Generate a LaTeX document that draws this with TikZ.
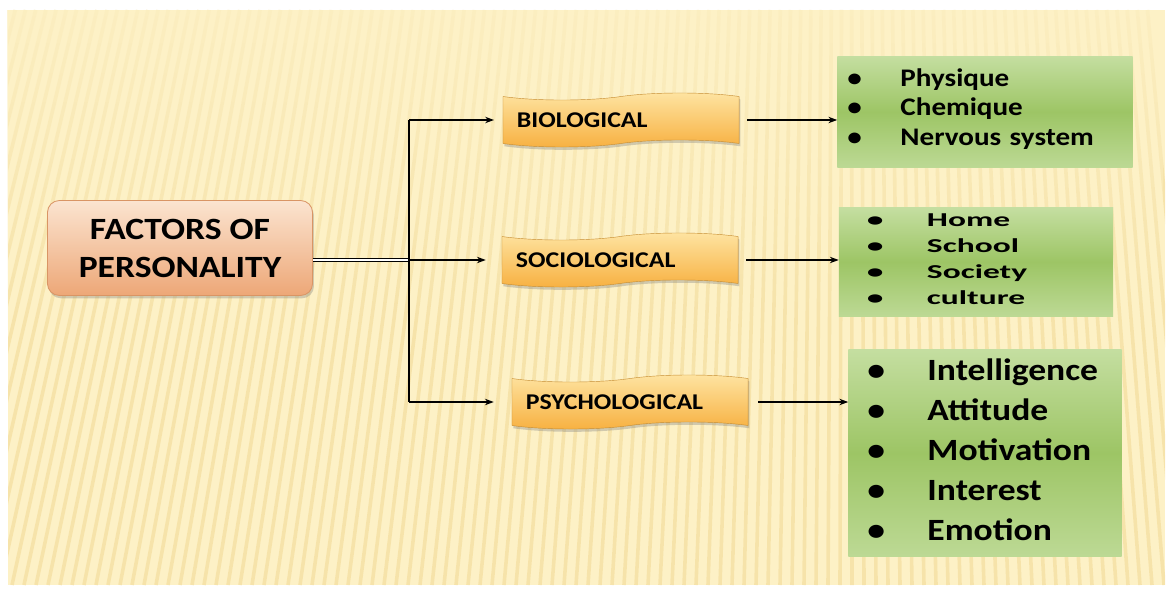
\documentclass[tikz,border=0pt]{standalone}
\usepackage{fontspec}
\setmainfont{Carlito}[FakeStretch=1.15]
\newfontfamily\widefont{Carlito}[FakeStretch=1.7]
\usetikzlibrary{arrows.meta,shapes.symbols,shadows,fadings}

\definecolor{bgyellow}{HTML}{FDF1C6}
\definecolor{stripeyellow}{HTML}{F1D78F}
\definecolor{peachtop}{HTML}{FBE4D0}
\definecolor{peachbot}{HTML}{EDA777}
\definecolor{peachline}{HTML}{D99565}
\definecolor{orangetop}{HTML}{FEE4A2}
\definecolor{orangebot}{HTML}{F7B040}
\definecolor{greenlight}{HTML}{C4DEA0}
\definecolor{greenmid}{HTML}{9DC565}

\newcommand{\bulletline}[2]{\makebox[#1][l]{\textbullet}#2}

\begin{document}
\begin{tikzpicture}[x=0.025cm,y=-0.025cm,
    arr/.style={-{Stealth[length=2.2mm,width=1.6mm]},line width=0.8pt},
    mainbox/.style={rectangle,rounded corners=0.3cm,draw=peachline,line width=0.6pt,
        top color=peachtop,bottom color=peachbot,minimum width=6.625cm,minimum height=2.375cm,
        align=center,font=\bfseries\fontsize{22}{27}\selectfont,
        drop shadow={opacity=0.35,shadow xshift=1pt,shadow yshift=-2pt}},
    factorbox/.style={tape,tape bend top=in and out,tape bend bottom=in and out,tape bend height=5pt,
        top color=orangetop,bottom color=orangebot,draw=orangebot!80!black,line width=0.3pt,
        minimum height=1.35cm,inner xsep=0.35cm,text width=5.2cm,align=left,
        font=\bfseries\fontsize{16}{19}\selectfont,
        drop shadow={opacity=0.35,shadow xshift=1pt,shadow yshift=-2pt}},
    listbox/.style={rectangle,top color=greenlight,bottom color=greenlight!80!greenmid,
        middle color=greenmid,align=left}]

% background
\useasboundingbox (0,0) rectangle (1170,590);
\fill[white] (0,0) rectangle (1170,590);
\fill[bgyellow] (8,10) rectangle (1165,585);
\begin{scope}
  \clip (8,10) rectangle (1165,585);
  \foreach \x in {-300,-288,...,1200}
    \draw[stripeyellow,line width=0.09cm,opacity=0.5] (\x,585) -- ({\x+0.15*(850-\x)},10);
\end{scope}
\fill[bgyellow,path fading=south,fill opacity=0.8] (8,10) rectangle (1165,330);

% nodes
\node[mainbox] (factors) at (180,248) {FACTORS OF\\PERSONALITY};
\node[factorbox] (bio) at (621,120) {BIOLOGICAL};
\node[factorbox] (socio) at (620,260) {SOCIOLOGICAL};
\node[factorbox] (psycho) at (630,402) {PSYCHOLOGICAL};

\node[listbox,minimum width=7.375cm,minimum height=2.775cm,inner xsep=0.25cm,text width=6.875cm,
    font=\bfseries\fontsize{18}{21.3}\selectfont] (biolist) at (985,112)
    {\bulletline{1.325cm}{Physique}\\ \bulletline{1.325cm}{Chemique}\\
     \bulletline{1.325cm}{Nervous system\rule[-7pt]{0pt}{7pt}}};
\node[listbox,minimum width=6.85cm,minimum height=2.7cm,inner xsep=0.7cm,text width=5.45cm,
    font=\widefont\bfseries\fontsize{14}{18.4}\selectfont] (sociolist) at (976,262)
    {\bulletline{1.5cm}{Home}\\ \bulletline{1.5cm}{School}\\ \bulletline{1.5cm}{Society}\\
     \bulletline{1.5cm}{culture\rule[-4pt]{0pt}{4pt}}};
\node[listbox,minimum width=6.825cm,minimum height=5.15cm,inner xsep=0.475cm,text width=5.875cm,
    font=\bfseries\fontsize{22}{28.4}\selectfont] (psycholist) at (985,453)
    {\bulletline{1.5cm}{Intelligence}\\ \bulletline{1.5cm}{Attitude}\\ \bulletline{1.5cm}{Motivation}\\
     \bulletline{1.5cm}{Interest}\\ \bulletline{1.5cm}{Emotion\rule[-5pt]{0pt}{5pt}}};

% connectors
\coordinate (hub) at (409,260);
\draw[line width=0.6pt,double,double distance=1.6pt] (factors.east |- hub) -- (hub);
\draw[line width=0.8pt] (hub |- bio.west) -- (hub |- psycho.west);
\draw[arr,shorten >=0.22cm] (hub |- bio.west) -- (bio.west);
\draw[arr,shorten >=0.4cm] (hub) -- (socio.west);
\draw[arr,shorten >=0.45cm] (hub |- psycho.west) -- (psycho.west);

\draw[arr,shorten <=0.2cm] (bio.east) -- (biolist.west |- bio.east);
\draw[arr,shorten <=0.2cm] (socio.east) -- (sociolist.west |- socio.east);
\draw[arr,shorten <=0.25cm] (psycho.east) -- (psycholist.west |- psycho.east);
\end{tikzpicture}
\end{document}
